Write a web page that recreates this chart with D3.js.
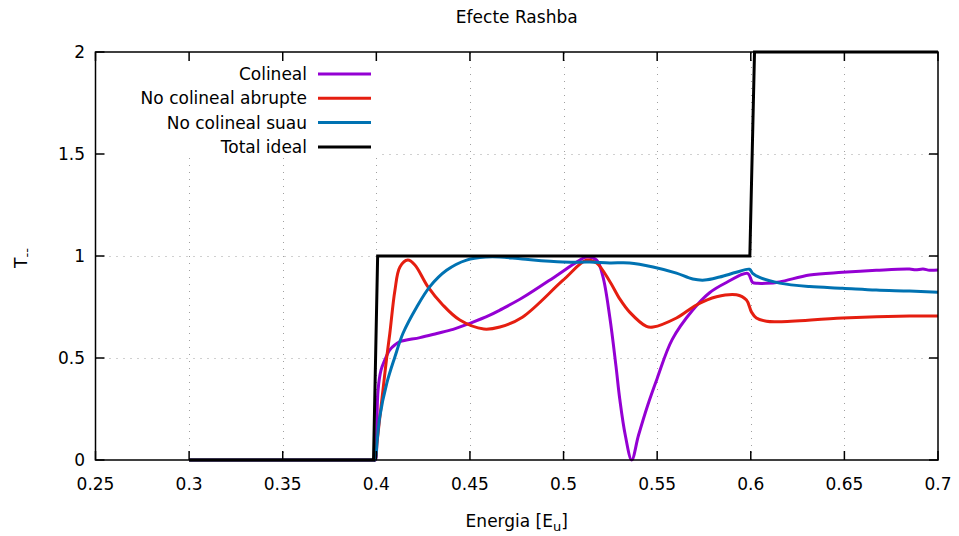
<!DOCTYPE html>
<html>
<head>
<meta charset="utf-8">
<script src="https://cdn.jsdelivr.net/npm/d3@7"></script>
<style>
  body { margin: 0; background: #fff; }
  text { font-family: "DejaVu Sans", sans-serif; fill: #000; }
</style>
</head>
<body>
<div id="chart"></div>
<script>
// values: [energy, T]
var colineal = [[0.3,0],[0.35,0],[0.397,0],[0.3985,0],[0.3995,0],[0.4002,0.14],[0.4009,0.34],[0.4025,0.44],[0.4045,0.49],
    [0.4072,0.54],[0.41,0.565],[0.4126,0.58],
    [0.4233,0.60],[0.4323,0.62],[0.441,0.64],[0.45,0.67],[0.4606,0.71],[0.466,0.735],[0.478,0.795],[0.4964,0.905],
    [0.507,0.97],[0.5124,0.995],[0.5177,0.98],[0.521,0.90],[0.5247,0.70],[0.528,0.46],[0.53,0.30],[0.533,0.12],
    [0.5364,0.0],[0.54,0.12],[0.545,0.27],[0.55,0.40],[0.558,0.59],[0.569,0.735],[0.578,0.82],[0.587,0.87],
    [0.5983,0.915],[0.601,0.87],[0.6036,0.866],[0.608,0.866],[0.6154,0.873],[0.6314,0.907],[0.649,0.92],
    [0.667,0.93],[0.6848,0.936],[0.688,0.932],[0.692,0.936],[0.6955,0.93],[0.7,0.932]]
var abrupte = [[0.3,0],[0.35,0],[0.397,0],[0.3985,0],[0.3993,0],[0.4003,0.08],[0.4015,0.18],[0.4035,0.34],[0.4055,0.50],
    [0.4072,0.62],[0.4099,0.83],[0.4126,0.946],
    [0.4168,0.98],[0.4206,0.956],[0.4275,0.85],[0.4355,0.76],[0.4446,0.686],[0.4574,0.642],[0.466,0.652],[0.478,0.70],
    [0.4996,0.88],[0.5124,0.98],[0.5177,0.965],[0.5247,0.875],[0.53,0.79],[0.5353,0.725],[0.5443,0.655],[0.5478,0.652],
    [0.5603,0.696],[0.571,0.76],[0.5817,0.80],[0.5923,0.81],[0.5977,0.784],[0.6004,0.725],[0.603,0.696],[0.6084,0.68],
    [0.6154,0.678],[0.649,0.696],[0.6848,0.706],[0.7,0.706]]
var suau = [[0.3,0],[0.35,0],[0.397,0],[0.3985,0],[0.3993,0],[0.4004,0.09],[0.4018,0.21],[0.4056,0.377],[0.4099,0.505],
    [0.4142,0.62],[0.4216,0.75],[0.4286,0.85],
    [0.4375,0.93],[0.4482,0.98],[0.4589,0.995],[0.466,0.995],[0.478,0.985],[0.4996,0.97],[0.514,0.97],[0.5247,0.966],
    [0.5353,0.966],[0.5478,0.946],[0.5603,0.916],[0.569,0.887],[0.5754,0.882],[0.5834,0.897],[0.5923,0.92],
    [0.5993,0.935],[0.601,0.915],[0.6047,0.895],[0.6154,0.867],[0.6314,0.85],[0.649,0.842],[0.667,0.833],
    [0.6848,0.828],[0.7,0.822]]
var ideal = [[0.3,0],[0.3985,0],[0.4007,1],[0.5995,1],[0.602,2],[0.7,2]]

var names = ["Colineal", "No colineal abrupte", "No colineal suau", "Total ideal"]
var colors = ["#9400d3", "#e51e10", "#0072b2", "#000000"]
var xTicks = [0.25, 0.3, 0.35, 0.4, 0.45, 0.5, 0.55, 0.6, 0.65, 0.7]
var yTicks = [0, 0.5, 1, 1.5, 2]

var width = 959, height = 536
var margin = {left: 95.5, right: 21, top: 52, bottom: 76}
var fs = 17

var x = d3.scaleLinear([0.25, 0.7], [margin.left, width - margin.right])
var y = d3.scaleLinear([0, 2], [height - margin.bottom, margin.top])

var svg = d3.select("#chart").append("svg")
    .attr("width", width)
    .attr("height", height)

// grid
var grid = svg.append("g")
    .attr("stroke", "#a0a0a0")
    .attr("stroke-width", 1)
    .attr("stroke-dasharray", "1,6")
grid.selectAll(".gx")
    .data(xTicks.filter(d => d > 0.25 && d < 0.7))
    .join("line")
    .attr("x1", d => Math.round(x(d)) + 0.5).attr("x2", d => Math.round(x(d)) + 0.5)
    .attr("y1", y(0)).attr("y2", y(2))
grid.selectAll(".gy")
    .data(yTicks.filter(d => d > 0 && d < 2))
    .join("line")
    .attr("y1", d => Math.round(y(d)) + 0.5).attr("y2", d => Math.round(y(d)) + 0.5)
    .attr("x1", x(0.25)).attr("x2", x(0.7))

// curves
svg.append("clipPath").attr("id", "clip")
    .append("rect")
    .attr("x", x(0.25)).attr("y", y(2) - 2)
    .attr("width", x(0.7) - x(0.25)).attr("height", y(0) - y(2) + 4)

var line = d3.line()
    .x(d => x(d[0]))
    .y(d => y(d[1]))
    .curve(d3.curveCatmullRom.alpha(0.5))
var lineStep = d3.line()
    .x(d => x(d[0]))
    .y(d => y(d[1]))

var series = [colineal, abrupte, suau]
var plot = svg.append("g").attr("clip-path", "url(#clip)")
plot.selectAll(".curve")
    .data(series)
    .join("path")
    .attr("fill", "none")
    .attr("stroke", (d, i) => colors[i])
    .attr("stroke-width", 3)
    .attr("stroke-linejoin", "round")
    .attr("d", line)
plot.append("path")
    .attr("fill", "none")
    .attr("stroke", colors[3])
    .attr("stroke-width", 3)
    .attr("d", lineStep(ideal))

// legend (opaque box, as gnuplot draws it)
var legend = svg.append("g")
legend.append("rect")
    .attr("x", x(0.25) + 1).attr("y", y(2) + 1)
    .attr("width", 282).attr("height", 105)
    .attr("fill", "#fff")
names.forEach(function(name, i) {
    var ly = 74 + i * 24.3
    legend.append("text")
        .attr("x", 307).attr("y", ly)
        .attr("dy", "0.35em")
        .attr("text-anchor", "end")
        .attr("font-size", fs)
        .text(name)
    legend.append("line")
        .attr("x1", 318).attr("x2", 371)
        .attr("y1", ly).attr("y2", ly)
        .attr("stroke", colors[i])
        .attr("stroke-width", 3)
})

// axes with inward and mirrored ticks
var tick = 9
var axes = svg.append("g")
axes.selectAll(".xtb")
    .data(xTicks)
    .join("line")
    .attr("x1", d => x(d)).attr("x2", d => x(d))
    .attr("y1", y(0)).attr("y2", y(0) - tick)
    .attr("stroke", "#000").attr("stroke-width", 1.5)
axes.selectAll(".xtt")
    .data(xTicks)
    .join("line")
    .attr("x1", d => x(d)).attr("x2", d => x(d))
    .attr("y1", y(2)).attr("y2", y(2) + tick)
    .attr("stroke", "#000").attr("stroke-width", 1.5)
axes.selectAll(".ytl")
    .data(yTicks)
    .join("line")
    .attr("y1", d => y(d)).attr("y2", d => y(d))
    .attr("x1", x(0.25)).attr("x2", x(0.25) + tick)
    .attr("stroke", "#000").attr("stroke-width", 1.5)
axes.selectAll(".ytr")
    .data(yTicks)
    .join("line")
    .attr("y1", d => y(d)).attr("y2", d => y(d))
    .attr("x1", x(0.7)).attr("x2", x(0.7) - tick)
    .attr("stroke", "#000").attr("stroke-width", 1.5)

axes.append("rect")
    .attr("x", x(0.25)).attr("y", y(2))
    .attr("width", x(0.7) - x(0.25)).attr("height", y(0) - y(2))
    .attr("fill", "none")
    .attr("stroke", "#000")
    .attr("stroke-width", 1.5)

axes.selectAll(".xl")
    .data(xTicks)
    .join("text")
    .attr("x", d => x(d))
    .attr("y", y(0) + 24)
    .attr("dy", "0.35em")
    .attr("text-anchor", "middle")
    .attr("font-size", fs)
    .text(d => d)
axes.selectAll(".yl")
    .data(yTicks)
    .join("text")
    .attr("x", 85)
    .attr("y", d => y(d))
    .attr("dy", "0.35em")
    .attr("text-anchor", "end")
    .attr("font-size", fs)
    .text(d => d)

// titles
svg.append("text")
    .attr("x", (x(0.25) + x(0.7)) / 2).attr("y", 17)
    .attr("dy", "0.35em")
    .attr("text-anchor", "middle")
    .attr("font-size", fs)
    .text("Efecte Rashba")

var xl = svg.append("text")
    .attr("x", (x(0.25) + x(0.7)) / 2).attr("y", 521)
    .attr("dy", "0.35em")
    .attr("text-anchor", "middle")
    .attr("font-size", fs)
xl.append("tspan").text("Energia [E")
xl.append("tspan").attr("font-size", 13).attr("dy", 4).text("u")
xl.append("tspan").attr("dy", -4).text("]")

var yl = svg.append("text")
    .attr("transform", "translate(21,258) rotate(-90)")
    .attr("text-anchor", "middle")
    .attr("dy", "0.35em")
    .attr("font-size", fs)
yl.append("tspan").text("T")
yl.append("tspan").attr("font-size", 13).attr("dy", 4).text("--")
</script>
</body>
</html>
